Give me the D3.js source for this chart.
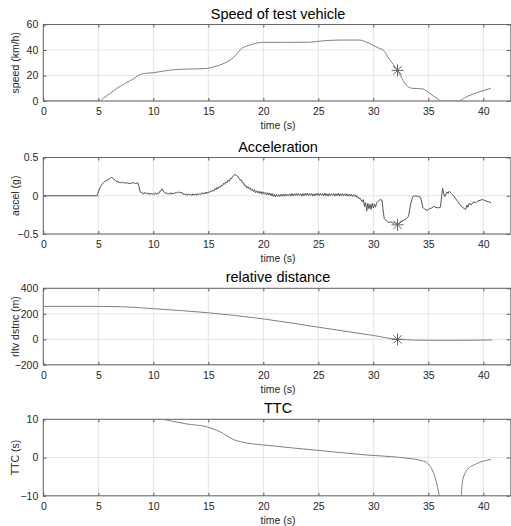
<!DOCTYPE html>
<html lang="en">
<head>
<meta charset="UTF-8">
<title>Test vehicle</title>
<script src="https://d3js.org/d3.v7.min.js"></script>
<style>
  body { margin: 0; background: #fff; }
  svg text { font-family: "Liberation Sans", Arial, sans-serif; fill: #262626; }
  .grid line { stroke: #e4e4e4; stroke-width: 1; }
  .axis path { display: none; }
  .axis line { stroke: #555; }
  .axis text { font-size: 10.5px; }
  .frame { fill: none; stroke: #666; stroke-width: 1; }
  .series { fill: none; stroke: #808080; stroke-width: 1; }
  .title { font-size: 14.5px; fill: #000 !important; }
  .label { font-size: 10.5px; }
  .star { fill: none; stroke: #666; stroke-width: 1; }
</style>
</head>
<body>
<svg width="511" height="526"></svg>
<script>
// time axis
const timeTicks = [0, 5, 10, 15, 20, 25, 30, 35, 40];

// speed of test vehicle (km/h)
const speedT = [0, 5.1, 5.5, 6.0, 6.7, 7.5, 8.3, 8.8, 9.3, 10.0, 10.6, 11.5, 13.0, 14.0, 14.9, 15.8, 16.5, 17.0, 17.5, 18.0, 18.5, 19.1, 20.0, 22.0, 24.2, 25.2, 27.0, 28.8, 29.2, 29.9, 30.5, 30.9, 31.4, 32.2, 33.0, 33.5, 34.5, 35.2, 35.8, 36.2, 37.7, 38.5, 39.5, 40.7];
const speedV = [0, 0, 2.5, 5.5, 10, 14, 18, 20.8, 21.7, 22.2, 23, 24.2, 25, 25.2, 25.6, 27.5, 29.8, 32.2, 36, 41, 43.2, 44.8, 46, 46, 46.1, 47, 47.8, 47.8, 46.8, 44, 41.5, 40, 33.5, 24, 12.5, 10, 9.5, 5.5, 2, 0, 0, 3.4, 6.8, 10];

// acceleration (g), [time, value]
const accel = [
  [0, 0], [4.9, 0], [5.0, 0.05], [5.2, 0.12], [5.4, 0.16], [5.6, 0.19], [5.8, 0.2], [6.0, 0.22], [6.2, 0.24], [6.4, 0.22],
  [6.6, 0.19], [6.8, 0.18], [7.0, 0.17], [7.2, 0.175], [7.4, 0.165], [7.6, 0.17], [7.8, 0.16], [8.0, 0.165], [8.2, 0.17],
  [8.4, 0.16], [8.6, 0.17], [8.7, 0.12], [8.8, 0.05],
  [9.0, 0.04], [9.1, 0.02], [9.2, 0.045], [9.3, 0.025], [9.4, 0.04], [9.5, 0.02], [9.6, 0.035], [9.7, 0.015], [9.8, 0.035],
  [9.9, 0.02], [10.0, 0.03], [10.1, 0.015], [10.2, 0.04], [10.3, 0.02], [10.4, 0.035], [10.5, 0.03], [10.6, 0.06], [10.7, 0.07],
  [10.8, 0.09], [10.9, 0.06], [11.0, 0.05], [11.1, 0.03], [11.2, 0.04], [11.3, 0.02], [11.4, 0.035], [11.5, 0.02], [11.6, 0.04],
  [11.7, 0.02], [11.8, 0.035], [11.9, 0.025], [12.0, 0.045], [12.1, 0.035], [12.2, 0.05], [12.3, 0.04], [12.4, 0.05], [12.5, 0.035],
  [12.6, 0.045], [12.7, 0.02], [12.8, 0.025], [12.9, 0.01], [13.0, 0.025], [13.1, 0.005], [13.2, 0.025], [13.3, 0.01], [13.4, 0.02],
  [13.5, 0.0], [13.6, 0.025], [13.7, 0.01], [13.8, 0.02], [13.9, 0.005], [14.0, 0.03], [14.1, 0.01], [14.2, 0.03], [14.3, 0.015],
  [14.4, 0.04], [14.5, 0.02], [14.6, 0.04], [14.7, 0.025], [14.8, 0.05], [14.9, 0.03], [15.0, 0.05], [15.1, 0.04], [15.2, 0.065],
  [15.3, 0.05], [15.4, 0.075], [15.5, 0.06], [15.6, 0.095], [15.7, 0.08], [15.8, 0.11], [15.9, 0.09], [16.0, 0.125], [16.1, 0.11],
  [16.2, 0.14], [16.3, 0.13], [16.4, 0.165], [16.5, 0.15], [16.6, 0.18], [16.7, 0.17], [16.8, 0.205], [16.9, 0.19], [17.0, 0.225],
  [17.1, 0.22], [17.2, 0.25], [17.3, 0.26], [17.4, 0.28], [17.5, 0.27], [17.6, 0.265], [17.7, 0.24], [17.8, 0.23], [17.9, 0.2],
  [18.0, 0.21], [18.1, 0.17], [18.2, 0.17], [18.3, 0.13], [18.4, 0.14], [18.5, 0.1], [18.6, 0.12], [18.7, 0.09], [18.8, 0.105],
  [18.9, 0.07], [19.0, 0.085], [19.1, 0.055], [19.2, 0.08], [19.3, 0.04], [19.4, 0.065], [19.5, 0.035], [19.6, 0.06], [19.7, 0.03],
  [19.8, 0.055], [19.9, 0.02], [20.0, 0.05], [20.1, 0.02], [20.2, 0.045], [20.3, 0.01], [20.4, 0.04], [20.5, 0.01], [20.6, 0.035],
  [20.7, 0.0], [20.8, 0.03], [20.9, -0.01], [21.0, 0.02], [21.1, -0.015], [21.2, 0.015], [21.3, -0.01], [21.4, 0.015], [21.5, -0.01],
  [21.6, 0.02], [21.7, -0.005], [21.8, 0.02], [21.9, -0.005], [22.0, 0.025], [22.1, -0.005], [22.2, 0.02], [22.3, 0.0], [22.4, 0.025],
  [22.5, -0.005], [22.6, 0.03], [22.7, 0.0], [22.8, 0.025], [22.9, 0.005], [23.0, 0.03], [23.1, 0.0], [23.2, 0.03], [23.3, 0.005],
  [23.4, 0.025], [23.5, -0.005], [23.6, 0.03], [23.7, 0.0], [23.8, 0.03], [23.9, 0.005], [24.0, 0.035], [24.1, 0.0], [24.2, 0.03],
  [24.3, 0.005], [24.4, 0.03], [24.5, -0.005], [24.6, 0.025], [24.7, 0.0], [24.8, 0.03], [24.9, 0.005], [25.0, 0.035], [25.1, 0.0],
  [25.2, 0.03], [25.3, 0.005], [25.4, 0.03], [25.5, 0.0], [25.6, 0.035], [25.7, 0.0], [25.8, 0.025], [25.9, -0.005], [26.0, 0.03],
  [26.1, 0.0], [26.2, 0.025], [26.3, 0.005], [26.4, 0.03], [26.5, -0.005], [26.6, 0.025], [26.7, 0.0], [26.8, 0.03], [26.9, 0.0],
  [27.0, 0.025], [27.1, -0.005], [27.2, 0.03], [27.3, 0.0], [27.4, 0.025], [27.5, 0.0], [27.6, 0.025], [27.7, -0.005], [27.8, 0.02],
  [27.9, -0.005], [28.0, 0.02], [28.1, -0.01], [28.2, 0.015], [28.3, -0.01], [28.4, 0.01], [28.5, -0.02], [28.6, -0.01], [28.7, -0.04],
  [28.8, -0.03], [29.0, -0.08], [29.1, -0.05], [29.2, -0.14], [29.3, -0.09], [29.4, -0.2], [29.5, -0.1], [29.6, -0.17], [29.7, -0.11],
  [29.8, -0.18], [29.9, -0.1], [30.0, -0.16], [30.1, -0.11], [30.2, -0.15], [30.3, -0.09], [30.4, -0.08], [30.6, -0.05], [30.8, -0.06],
  [30.9, -0.2], [31.0, -0.3], [31.2, -0.33], [31.4, -0.35], [31.6, -0.34], [31.8, -0.36], [32.0, -0.35], [32.2, -0.38], [32.4, -0.36],
  [32.6, -0.33], [32.8, -0.32], [33.0, -0.3], [33.2, -0.27], [33.4, -0.1], [33.6, -0.01], [33.8, 0.0], [34.0, -0.005], [34.3, -0.02],
  [34.5, -0.15], [34.7, -0.18], [34.9, -0.19], [35.1, -0.17], [35.3, -0.16], [35.5, -0.14], [35.7, -0.15], [35.9, -0.16], [36.1, -0.15],
  [36.3, 0.1], [36.4, 0.03], [36.5, -0.01], [36.7, 0.05], [36.8, 0.03], [36.9, 0.06], [37.1, 0.03], [37.3, 0.0], [37.5, -0.04],
  [37.7, -0.08], [37.9, -0.12], [38.1, -0.15], [38.3, -0.17], [38.4, -0.18], [38.5, -0.12], [38.6, -0.15], [38.7, -0.1], [38.9, -0.12],
  [39.1, -0.08], [39.3, -0.09], [39.5, -0.07], [39.7, -0.06], [39.9, -0.05], [40.1, -0.06], [40.3, -0.07], [40.5, -0.08], [40.7, -0.09]
];

// relative distance (m)
const distT = [0, 5, 7, 10, 15, 20, 25, 30, 32.2, 35, 38, 40.8];
const distV = [258, 258, 256, 240, 208, 160, 95, 30, 0, -8, -8, -5];

// time to collision (s), two branches either side of the pole
const ttcT1 = [10.7, 13.0, 14.9, 16.1, 17.3, 18.5, 20.0, 24.9, 29.7, 32.2, 34.5, 34.9, 35.3, 35.7, 36.0, 36.2];
const ttcV1 = [10.1, 8.8, 8.0, 6.7, 4.7, 3.8, 3.3, 1.9, 0.6, 0.1, -0.9, -1.4, -2.9, -6, -10, -13];
const ttcT2 = [37.9, 38.0, 38.1, 38.5, 39.4, 40.7];
const ttcV2 = [-13, -10, -6.4, -3.3, -1.6, -0.5];

// crash markers
const markT = 32.2;
const speedMark = 24;
const accelMark = -0.38;
const distMark = 0;

const svg = d3.select("svg");
const left = 43.3, right = 510.8, plotH = 76.5;

const x = d3.scaleLinear().domain([0, 42.5]).range([left, right]);

const panels = [
  { top: 24.5, title: "Speed of test vehicle", ylabel: "speed (km/h)", domain: [0, 60], ticks: [0, 20, 40, 60],
    series: [d3.zip(speedT, speedV)], curve: d3.curveMonotoneX, mark: speedMark },
  { top: 157.5, title: "Acceleration", ylabel: "accel (g)", domain: [-0.5, 0.5], ticks: [-0.5, 0, 0.5],
    series: [accel], curve: d3.curveLinear, mark: accelMark, color: "#555" },
  { top: 288.3, title: "relative distance", ylabel: "rltv dstnc (m)", domain: [-200, 400], ticks: [-200, 0, 200, 400],
    series: [d3.zip(distT, distV)], curve: d3.curveMonotoneX, mark: distMark },
  { top: 419.3, title: "TTC", ylabel: "TTC (s)", domain: [-10, 10], ticks: [-10, 0, 10],
    series: [d3.zip(ttcT1, ttcV1), d3.zip(ttcT2, ttcV2)], curve: d3.curveMonotoneX, mark: null }
];

panels.forEach((p, i) => {
  const y = d3.scaleLinear().domain(p.domain).range([p.top + plotH, p.top]);
  const g = svg.append("g");

  g.append("clipPath").attr("id", "clip" + i)
    .append("rect").attr("x", left).attr("y", p.top).attr("width", right - left).attr("height", plotH);

  // grid
  const grid = g.append("g").attr("class", "grid");
  grid.selectAll(".gx").data(timeTicks).join("line")
    .attr("x1", d => x(d)).attr("x2", d => x(d))
    .attr("y1", p.top).attr("y2", p.top + plotH);
  grid.selectAll(".gy").data(p.ticks).join("line")
    .attr("x1", left).attr("x2", right)
    .attr("y1", d => y(d)).attr("y2", d => y(d));

  // axes, ticks pointing inward on all four sides
  g.append("g").attr("class", "axis").attr("transform", `translate(0,${p.top + plotH})`)
    .call(d3.axisBottom(x).tickValues(timeTicks).tickSizeInner(-3).tickSizeOuter(0).tickPadding(7));
  g.append("g").attr("class", "axis").attr("transform", `translate(0,${p.top})`)
    .call(d3.axisTop(x).tickValues(timeTicks).tickSizeInner(-3).tickSizeOuter(0).tickFormat(""));
  g.append("g").attr("class", "axis").attr("transform", `translate(${left},0)`)
    .call(d3.axisLeft(y).tickValues(p.ticks).tickSizeInner(-3).tickSizeOuter(0).tickPadding(5).tickFormat(d3.format("")));
  g.append("g").attr("class", "axis").attr("transform", `translate(${right - 1},0)`)
    .call(d3.axisRight(y).tickValues(p.ticks).tickSizeInner(-3).tickSizeOuter(0).tickFormat(""));

  g.append("rect").attr("class", "frame")
    .attr("x", left).attr("y", p.top).attr("width", right - left).attr("height", plotH);

  // data
  const line = d3.line().x(d => x(d[0])).y(d => y(d[1])).curve(p.curve);
  g.append("g").attr("clip-path", `url(#clip${i})`)
    .selectAll("path").data(p.series).join("path")
    .attr("class", "series")
    .style("stroke", p.color || null)
    .attr("d", line);

  if (p.mark !== null) {
    const cx = x(markT), cy = y(p.mark), r = 6, q = r * 0.7;
    g.append("path").attr("class", "star")
      .attr("d", `M${cx - r},${cy}H${cx + r}M${cx},${cy - r}V${cy + r}` +
        `M${cx - q},${cy - q}L${cx + q},${cy + q}M${cx - q},${cy + q}L${cx + q},${cy - q}`);
  }

  // labels
  g.append("text").attr("class", "title")
    .attr("x", (left + right) / 2 + 1).attr("y", p.top - 6)
    .attr("text-anchor", "middle").text(p.title);
  g.append("text").attr("class", "label")
    .attr("x", (left + right) / 2 + 1).attr("y", p.top + plotH + 28)
    .attr("text-anchor", "middle").text("time (s)");
  g.append("text").attr("class", "label")
    .attr("transform", `translate(19,${p.top + plotH / 2}) rotate(-90)`)
    .attr("text-anchor", "middle").text(p.ylabel);
});
</script>
</body>
</html>
